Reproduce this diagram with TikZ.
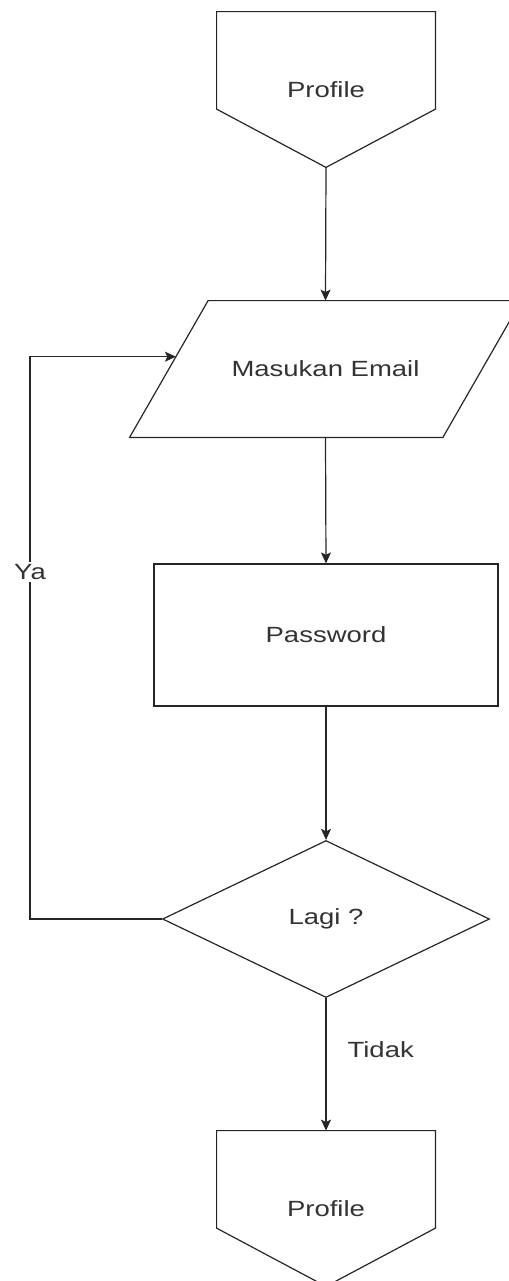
\documentclass[tikz,border=0pt]{standalone}
\usepackage{fontspec}
\newfontfamily\flowfont[FakeStretch=1.25]{Liberation Sans}
\usetikzlibrary{shapes.geometric,arrows.meta,calc}
\colorlet{flowline}{black!85}

\begin{document}
\begin{tikzpicture}
[x=0.5pt,y=-0.5pt,
  every node/.style={font=\flowfont\fontsize{11}{13}\selectfont,text=black!80},%
  pagedecorate/.style={shape=rectangle,minimum width=109pt,minimum height=77.5pt,inner sep=0pt},%
  iodecorate/.style={shape=rectangle,minimum width=195.5pt,minimum height=68pt,inner sep=0pt},%
  procdecorate/.style={shape=rectangle,draw=flowline,line width=0.6pt,minimum width=172pt,minimum height=71pt,inner sep=0pt},%
  decidedecorate/.style={shape=diamond,draw=flowline,line width=0.6pt,minimum width=163.5pt,minimum height=78.5pt,inner sep=0pt},%
  labeldecorate/.style={fill=white,inner sep=1pt},%
  outlinedecorate/.style={draw=flowline,line width=0.6pt},%
  linedecorate/.style={-{Stealth[length=5.5pt,width=5pt,inset=1.2pt]},draw=flowline,line width=0.6pt}]
\useasboundingbox (0,0) rectangle (509,1281);
%% nodes or vertices
\node (prof1) at (326,89.5) [pagedecorate] {Profile};
\node (email) at (325.5,369) [iodecorate] {Masukan Email};
\node (pass) at (326,635) [procdecorate] {Password};
\node (lagi) at (326,919) [decidedecorate] {Lagi ?};
\node (prof2) at (326,1208.5) [pagedecorate] {Profile};
%% outlines of off-page and input shapes
\foreach \pagename in {prof1,prof2} {
  \draw[outlinedecorate] (\pagename.north west) -- (\pagename.north east)
    -- ($(\pagename.north east)!0.626!(\pagename.south east)$) -- (\pagename.south)
    -- ($(\pagename.north west)!0.626!(\pagename.south west)$) -- cycle;
}
\coordinate (emailtl) at ($(email.north west)+(78.5,0)$);
\coordinate (emailbr) at ($(email.south east)+(-78.5,0)$);
\draw[outlinedecorate] (email.south west) -- (emailtl) -- (email.north east) -- (emailbr) -- cycle;
\coordinate (emailin) at ($(emailtl)!0.41!(email.south west)$);
\coordinate (loopcorner) at (30,0);
%% edges or lines
\foreach \startnode/\endnode in {prof1.south/email.north, email.south/pass.north,
  pass.south/lagi.north} {
  \draw[linedecorate] (\startnode) -- (\endnode);
}
\draw[linedecorate] (lagi.south) -- node[pos=0.39,anchor=west,xshift=10.5pt,inner sep=0pt] {Tidak} (prof2.north);
\draw[linedecorate] (lagi.west) -- (lagi.west -| loopcorner)
  -- node[labeldecorate,pos=0.617] {Ya} (emailin -| loopcorner) -- (emailin);
\end{tikzpicture}
\end{document}
